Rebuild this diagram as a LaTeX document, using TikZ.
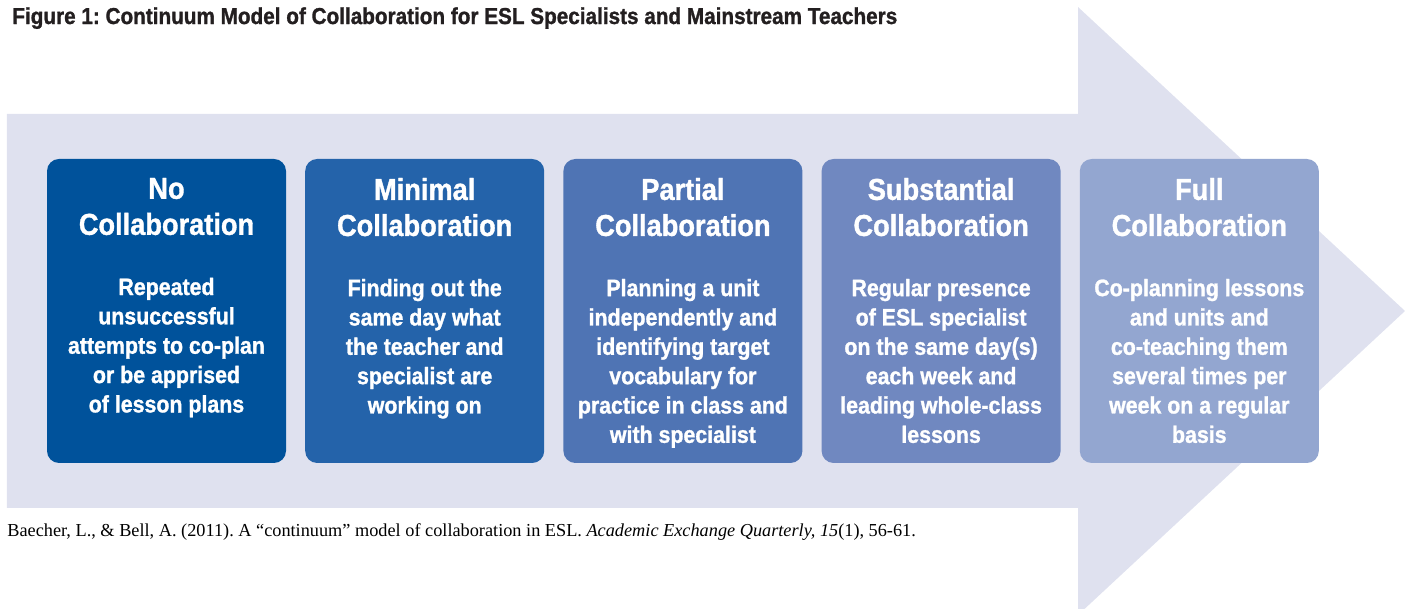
\documentclass[tikz,border=0pt]{standalone}
\usepackage{fontspec}
\usepackage{xcolor}
\usepackage{tikz}
\usetikzlibrary{positioning}
\setmainfont{Liberation Serif}
\newfontfamily\condfont[FakeStretch=0.9,FakeBold=1.2]{Liberation Sans}
\definecolor{arrowbg}{RGB}{223,225,239}
\definecolor{stageA}{RGB}{0,82,155}
\definecolor{stageB}{RGB}{36,99,170}
\definecolor{stageC}{RGB}{79,116,180}
\definecolor{stageD}{RGB}{112,136,192}
\definecolor{stageE}{RGB}{147,166,208}
\definecolor{titlegray}{RGB}{35,31,32}
\frenchspacing

\begin{document}
\begin{tikzpicture}[node distance=0.37cm]
    \tikzstyle{stage} = [rectangle, rounded corners=0.24cm, minimum width=4.78cm, minimum height=6.08cm, inner sep=0]
    \tikzstyle{head} = [inner sep=0, align=center, text=white, font=\condfont\bfseries\fontsize{17.2}{20.5}\selectfont]
    \tikzstyle{desc} = [inner sep=0, align=center, text=white, font=\condfont\bfseries\fontsize{13.5}{16.7}\selectfont]

    \useasboundingbox (0,0) rectangle (28.1,12.18);
    % the big arrow behind the boxes
    \fill[arrowbg] (0.14,2.02) -- (21.56,2.02) -- (21.56,-0.12) -- (28.1,5.96)
        -- (21.56,12.04) -- (21.56,9.9) -- (0.14,9.9) -- cycle;

    \node (title) [anchor=north west, inner sep=0, text=titlegray, font=\condfont\bfseries\fontsize{13.1}{15}\selectfont] at (0.24,12.04)
        {Figure 1: Continuum Model of Collaboration for ESL Specialists and Mainstream Teachers};

    \node (noCollab) [stage, fill=stageA] at (3.33,5.96) {};
    \node (minCollab) [stage, fill=stageB, right=of noCollab] {};
    \node (partCollab) [stage, fill=stageC, right=of minCollab] {};
    \node (subCollab) [stage, fill=stageD, right=of partCollab] {};
    \node (fullCollab) [stage, fill=stageE, right=of subCollab] {};

    \node (noHead) [head, below=0.38cm of noCollab.north] {No\\Collaboration};
    \node (minHead) [head, below=0.38cm of minCollab.north] {Minimal\\Collaboration};
    \node (partHead) [head, below=0.38cm of partCollab.north] {Partial\\Collaboration};
    \node (subHead) [head, below=0.38cm of subCollab.north] {Substantial\\Collaboration};
    \node (fullHead) [head, below=0.38cm of fullCollab.north] {Full\\Collaboration};

    \node (noText) [desc, below=0.84cm of noHead] {Repeated\\unsuccessful\\attempts to co-plan\\or be apprised\\of lesson plans};
    \node (minText) [desc, below=0.84cm of minHead] {Finding out the\\same day what\\the teacher and\\specialist are\\working on};
    \node (partText) [desc, below=0.84cm of partHead] {Planning a unit\\independently and\\identifying target\\vocabulary for\\practice in class and\\with specialist};
    \node (subText) [desc, below=0.84cm of subHead] {Regular presence\\of ESL specialist\\on the same day(s)\\each week and\\leading whole-class\\lessons};
    \node (fullText) [desc, below=0.84cm of fullHead] {Co-planning lessons\\and units and\\co-teaching them\\several times per\\week on a regular\\basis};

    \node (source) [anchor=base west, inner sep=0, font=\fontsize{10.4}{12}\selectfont] at (0.14,1.44)
        {Baecher, L., \& Bell, A. (2011). A “continuum” model of collaboration in ESL. \textit{Academic Exchange Quarterly, 15}(1), 56-61.};
\end{tikzpicture}
\end{document}
